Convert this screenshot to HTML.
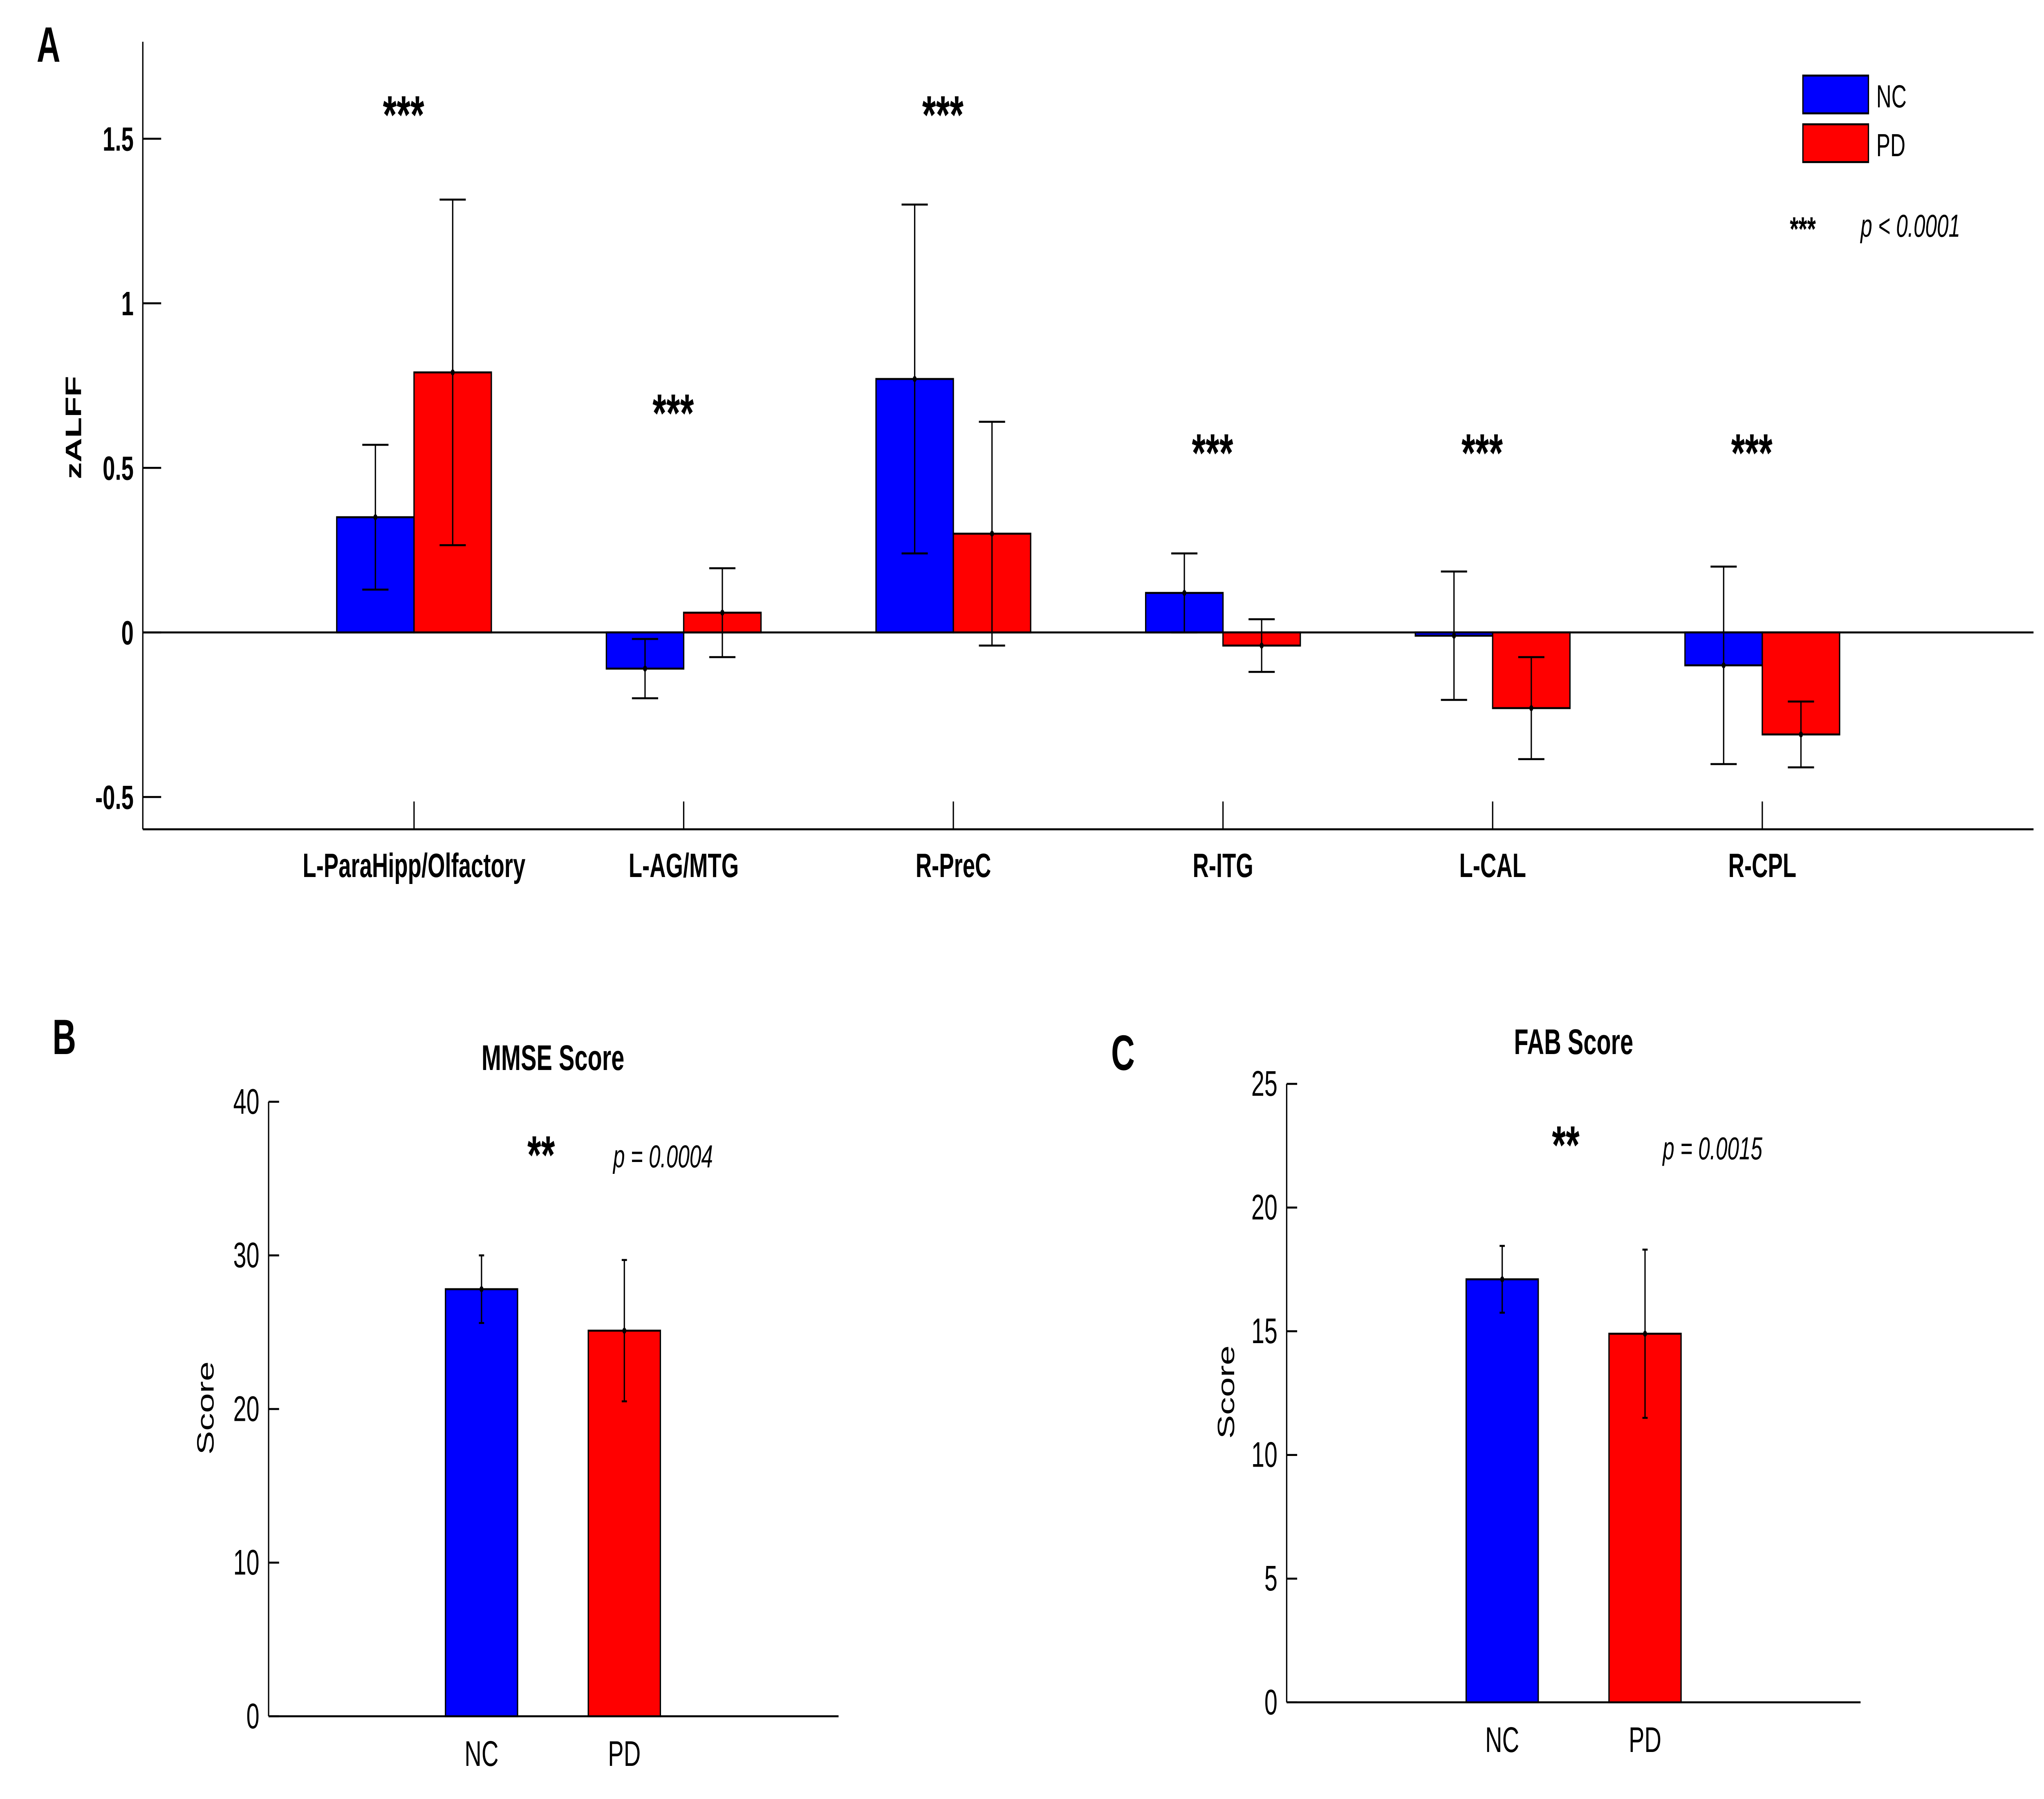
<!DOCTYPE html>
<html><head><meta charset="utf-8"><style>
html,body{margin:0;padding:0;background:#fff;width:100%;height:100%;overflow:hidden;}
svg{display:block;width:100vw;height:100vh;font-family:"Liberation Sans",Arial,sans-serif;}
</style></head><body>
<svg id="chart" viewBox="0 0 1560 904.6" preserveAspectRatio="none" xmlns="http://www.w3.org/2000/svg">
<rect x="0" y="0" width="1560" height="904.6" fill="#fff"/>
<g id="gA"></g>
<g id="gB"></g>
<g id="gC"></g>
</svg>
<script>
// Panel A data
const regions = ["L-ParaHipp/Olfactory","L-AG/MTG","R-PreC","R-ITG","L-CAL","R-CPL"];
const ncMeans = [0.35,-0.11,0.77,0.12,-0.01,-0.10];
const ncErr = [0.22,0.09,0.53,0.12,0.195,0.30];
const pdMeans = [0.79,0.06,0.30,-0.04,-0.23,-0.31];
const pdErr = [0.525,0.135,0.34,0.08,0.155,0.10];
const sigLabels = ["***","***","***","***","***","***"];
const aTicks = [-0.5,0,0.5,1,1.5];
const aTickLabels = ["-0.5","0","0.5","1","1.5"];
// Panel B/C data
const groups = ["NC","PD"];
const mmseMeans = [27.8,25.1];
const mmseErr = [2.2,4.6];
const mmseTicks = [0,10,20,30,40];
const fabMeans = [17.1,14.9];
const fabErr = [1.35,3.4];
const fabTicks = [0,5,10,15,20,25];

const NS="http://www.w3.org/2000/svg";
function mk(parent,tag,attrs,txt){const e=document.createElementNS(NS,tag);for(const k in attrs)e.setAttribute(k,attrs[k]);if(txt!==undefined)e.textContent=txt;parent.appendChild(e);return e;}
const colors=["#0000ff","#ff0000"];

// ---- Panel A ----
(function(){
const g=document.getElementById('gA');
const yA=v=>318-v*165.5;
const xA=i=>316+i*205.8;
const bw=59;
let t=mk(g,'text',{x:28,y:31,'font-size':25,'font-weight':'bold'},'A');

let l=mk(g,'line',{x1:109,y1:21,x2:109,y2:417,stroke:'#000','stroke-width':1});

l=mk(g,'line',{x1:109,y1:417,x2:1552,y2:417,stroke:'#000','stroke-width':1});

l=mk(g,'line',{x1:109,y1:yA(0),x2:1552,y2:yA(0),stroke:'#000','stroke-width':1});

aTicks.forEach((v,i)=>{
 const tk=mk(g,'line',{x1:109,y1:yA(v),x2:123,y2:yA(v),stroke:'#000','stroke-width':1});
 
 const tl=mk(g,'text',{x:102,y:yA(v)+6,'font-size':17,'font-weight':'bold','text-anchor':'end'},aTickLabels[i]);
 
});
const yt=mk(g,'text',{x:0,y:0,'font-size':17,'font-weight':'bold','text-anchor':'middle',transform:'translate(62,215) rotate(-90)'},'zALFF');

regions.forEach((r,i)=>{
 const cx=xA(i);
 const tk=mk(g,'line',{x1:cx,y1:403,x2:cx,y2:417,stroke:'#000','stroke-width':1});
 
 const tl=mk(g,'text',{x:cx,y:441,'font-size':17,'font-weight':'bold','text-anchor':'middle'},r);
 
 [[ncMeans,ncErr,-1],[pdMeans,pdErr,0]].forEach((s,k)=>{
  const v=s[0][i],e=s[1][i];const x0=cx+s[2]*bw;
  const top=Math.min(yA(v),yA(0)),h=Math.abs(yA(v)-yA(0));
  const b=mk(g,'rect',{x:x0,y:top,width:bw,height:h,fill:colors[k],stroke:'#000','stroke-width':1});
  
  const bx=x0+bw/2;
  const eb=mk(g,'path',{d:`M${bx},${yA(v+e)}V${yA(v-e)}M${bx-10},${yA(v+e)}H${bx+10}M${bx-10},${yA(v-e)}H${bx+10}`,stroke:'#000','stroke-width':1,fill:'none'});
  
  const d=mk(g,'circle',{cx:bx,cy:yA(v),r:1.5,fill:'#000'});
  
 });
 const sy=i===0||i===2?67:(i===1?217:237);
 const st=mk(g,'text',{x:cx-8,y:sy,'font-size':27,'font-weight':'bold','text-anchor':'middle'},sigLabels[i]);
 
});
// legend
const lg=mk(g,'g',{});
groups.forEach((n,k)=>{
 const y=38+k*24.5;
 const r=mk(lg,'rect',{x:1376,y:y,width:50,height:19,fill:colors[k],stroke:'#000','stroke-width':1});
 
 const tx=mk(lg,'text',{x:1432,y:y+16,'font-size':16},n);
 
});
let s=mk(g,'text',{x:1366,y:121,'font-size':17,'font-weight':'bold'},'***');

s=mk(g,'text',{x:1420,y:119,'font-size':16,'font-style':'italic'},'p < 0.0001');

})();

// ---- Panels B and C ----
function small(gid,letter,lx,ly,ax,y0,yTop,maxV,xEnd,bar0,means,errs,ticks,title,titleX,titleY,starsX,starsY,pTxt,pX,pY,scoreX,scoreY){
 const g=document.getElementById(gid);
 const y=v=>y0-(y0-yTop)*v/maxV;
 let t=mk(g,'text',{x:lx,y:ly,'font-size':25,'font-weight':'bold'},letter);
 
 t=mk(g,'text',{x:titleX,y:titleY,'font-size':18,'font-weight':'bold','text-anchor':'middle'},title);
 
 let l=mk(g,'line',{x1:ax,y1:yTop,x2:ax,y2:y0,stroke:'#000','stroke-width':1});
 
 l=mk(g,'line',{x1:ax,y1:y0,x2:xEnd,y2:y0,stroke:'#000','stroke-width':1});
 
 ticks.forEach(v=>{
  const tk=mk(g,'line',{x1:ax,y1:y(v),x2:ax+8,y2:y(v),stroke:'#000','stroke-width':1});
  
  const tl=mk(g,'text',{x:ax-7,y:y(v)+6,'font-size':18,'text-anchor':'end'},String(v));
  
 });
 t=mk(g,'text',{x:0,y:0,'font-size':18,'text-anchor':'middle',transform:`translate(${scoreX},${scoreY}) rotate(-90)`},'Score');
 
 groups.forEach((n,k)=>{
  const x0=bar0+k*109,bw=55,v=means[k],e=errs[k];
  const b=mk(g,'rect',{x:x0,y:y(v),width:bw,height:y0-y(v),fill:colors[k],stroke:'#000','stroke-width':1});
  
  const bx=x0+bw/2;
  const eb=mk(g,'path',{d:`M${bx},${y(v+e)}V${y(v-e)}M${bx-2},${y(v+e)}H${bx+2}M${bx-2},${y(v-e)}H${bx+2}`,stroke:'#000','stroke-width':1,fill:'none'});
  
  const d=mk(g,'circle',{cx:bx,cy:y(v),r:1.5,fill:'#000'});
  
  const tl=mk(g,'text',{x:bx,y:y0+25,'font-size':18,'text-anchor':'middle'},n);
  
 });
 t=mk(g,'text',{x:starsX,y:starsY,'font-size':27,'font-weight':'bold','text-anchor':'middle'},'**');
 
 t=mk(g,'text',{x:pX,y:pY,'font-size':16,'font-style':'italic'},pTxt);
 
}
small('gB','B',40,530,205,863,554,40,640,340,mmseMeans,mmseErr,mmseTicks,'MMSE Score',422,538,413,590,'p = 0.0004',468,587,163,708);
small('gC','C',848,538,982,856,545,25,1420,1119,fabMeans,fabErr,fabTicks,'FAB Score',1201,530,1195,585,'p = 0.0015',1269,583,942,700);
</script>
</body></html>
